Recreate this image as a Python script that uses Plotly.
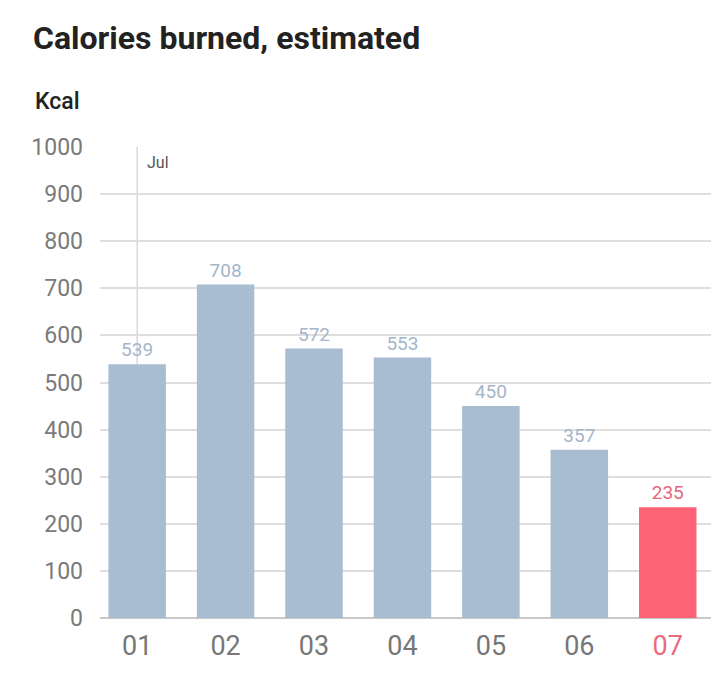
import plotly.graph_objects as go

days = ["01", "02", "03", "04", "05", "06", "07"]
kcal = [539, 708, 572, 553, 450, 357, 235]
month_label = "Jul"
y_ticks = [0, 100, 200, 300, 400, 500, 600, 700, 800, 900, 1000]

blue = "#a8bdd1"
red = "#fe6275"
bar_colors = [blue] * (len(days) - 1) + [red]
label_colors = ["#a3b6ca"] * (len(days) - 1) + ["#e4677b"]

# the page adds an 8px body margin, so the layout is shifted back by 8px
fig = go.Figure()
fig.add_trace(go.Bar(
    x=list(range(len(days))),
    y=kcal,
    marker=dict(color=bar_colors, line=dict(width=0)),
    width=0.65,
    text=[str(v) for v in kcal],
    textposition="outside",
    textfont=dict(family="Roboto", size=19, color=label_colors),
    cliponaxis=False,
    hoverinfo="skip",
))

# month marker line
fig.add_shape(type="line", xref="x", yref="y", x0=0, x1=0, y0=0, y1=1000,
              line=dict(color="#c4c4c4", width=1), layer="below")
fig.add_annotation(x=0, y=1000, xref="x", yref="y", text=month_label,
                   showarrow=False, xanchor="left", yanchor="top",
                   xshift=8, yshift=-4,
                   font=dict(family="Roboto", size=16, color="#555555"))

fig.add_annotation(xref="paper", yref="paper", x=-67 / 627, y=(618 - 101) / 471,
                   text="Kcal", showarrow=False, xanchor="left", yanchor="middle",
                   font=dict(family="Roboto", size=23, color="#222222", weight=500))

tick_text = [f'<span style="color:{c}">{d}</span>' for d, c in
             zip(days, ["#777777"] * (len(days) - 1) + ["#ea6a7e"])]

fig.update_layout(
    width=719, height=686,
    margin=dict(l=92, r=0, t=139, b=76),
    paper_bgcolor="white", plot_bgcolor="white",
    showlegend=False,
    title=dict(text="<b>Calories burned, estimated</b>", xref="container", yref="container",
               x=25 / 719, xanchor="left", y=1 - 30 / 686, yanchor="middle",
               font=dict(family="Roboto", size=32, color="#222222")),
    xaxis=dict(range=[-0.42, 6.67], tickmode="array", tickvals=list(range(len(days))),
               ticktext=tick_text, showgrid=False, zeroline=False,
               showline=False, ticks="", ticklabelstandoff=9,
               tickfont=dict(family="Roboto", size=27, color="#777777")),
    yaxis=dict(range=[0, 1000], tickvals=y_ticks, showgrid=True, gridcolor="#dedede",
               gridwidth=1.5, zeroline=True, zerolinecolor="#c8c8c8", zerolinewidth=2,
               ticks="", ticklabelstandoff=16,
               tickfont=dict(family="Roboto", size=23, color="#7a7a7a")),
    bargap=0.35,
)

fig.write_html("out.html")
